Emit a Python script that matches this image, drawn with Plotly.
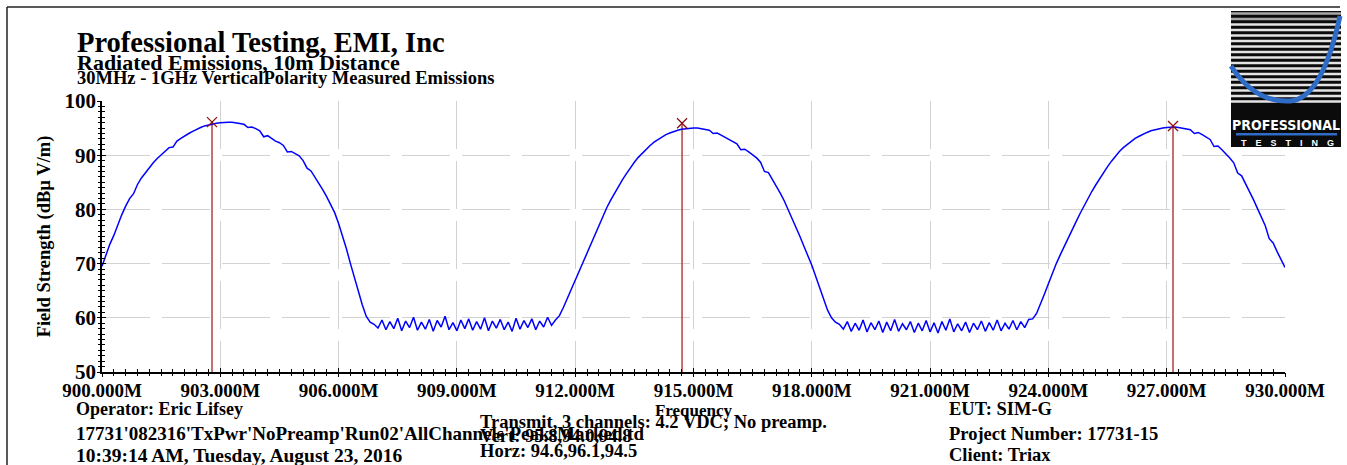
import plotly.graph_objects as go

# ---------------------------------------------------------------- data
# Sweep: 900 MHz to 930 MHz, 0.1 MHz resolution, vertical polarity (dBuV/m)
freq_start_mhz = 900.0
freq_step_mhz = 0.1
level_dbuvm = [
    # 900.0 - 906.9
    69.5, 71.6, 73.6, 75.2, 77.3, 79.0, 80.6, 82.0, 82.9, 84.6,
    85.8, 86.8, 87.8, 88.6, 89.4, 90.1, 90.8, 91.4, 91.5, 92.6,
    93.1, 93.6, 94.0, 94.4, 94.8, 95.1, 95.4, 95.6, 95.8, 95.9,
    96.0, 96.1, 96.1, 96.1, 96.0, 95.9, 95.7, 95.1, 95.2, 94.9,
    94.5, 93.4, 93.6, 93.1, 92.6, 92.3, 91.8, 90.6, 90.7, 90.3,
    89.9, 89.0, 87.6, 87.1, 86.0, 84.9, 83.6, 82.3, 80.9, 79.4,
    77.4, 75.2, 72.7, 70.0, 67.4, 64.9, 62.4, 60.3, 59.2, 58.8,
    # 907.0 - 911.4
    58.1, 59.6, 57.8, 59.3, 58.0, 59.9, 57.6, 59.4, 58.2, 60.1,
    57.7, 59.2, 57.9, 59.7, 57.5, 59.5, 58.3, 60.3, 57.8, 59.1,
    57.6, 59.6, 58.0, 59.8, 57.7, 59.3, 57.9, 60.0, 57.6, 59.4,
    58.1, 59.7, 57.8, 59.2, 57.5, 59.9, 57.9, 59.5, 58.2, 59.8,
    57.8, 59.4, 58.3, 60.1, 58.6,
    # 911.5 - 918.7
    59.6, 60.4, 61.9, 63.6, 65.3, 67.0, 68.6, 70.2, 71.9, 73.6,
    75.3, 77.0, 78.7, 80.3, 81.7, 83.0, 84.3, 85.5, 86.6, 87.7,
    88.7, 89.6, 90.4, 91.1, 91.8, 92.4, 92.9, 93.4, 93.8, 94.1,
    94.4, 94.6, 94.8, 94.9, 95.0, 95.0, 95.0, 94.9, 94.8, 94.6,
    94.0, 94.1, 93.7, 93.3, 92.9, 92.6, 92.1, 91.0, 91.1, 90.6,
    90.1, 89.5, 88.7, 87.0, 86.8, 85.6, 84.4, 83.0, 81.6, 80.0,
    78.4, 76.8, 75.0, 73.2, 71.5, 69.7, 67.6, 65.5, 63.4, 61.4,
    60.0, 59.2, 58.8,
    # 918.8 - 923.5
    57.9, 59.3, 57.5, 59.0, 57.7, 59.6, 57.4, 59.1, 57.8, 59.4,
    57.3, 59.2, 57.6, 59.7, 57.5, 58.9, 57.8, 59.3, 57.3, 59.0,
    57.6, 59.5, 57.4, 59.1, 57.2, 59.3, 57.7, 59.8, 57.4, 58.9,
    57.6, 59.2, 57.3, 59.0, 57.8, 59.4, 57.5, 59.1, 57.7, 59.6,
    57.6, 59.0, 57.9, 59.5, 57.8, 59.3, 58.2, 59.7,
    # 923.6 - 930.0
    59.8, 60.8, 62.5, 64.4, 66.3, 68.2, 70.0, 71.6, 73.2, 74.7,
    76.2, 77.7, 79.2, 80.6, 82.0, 83.3, 84.5, 85.7, 86.8, 87.9,
    88.9, 89.9, 90.7, 91.4, 92.0, 92.6, 93.1, 93.5, 93.9, 94.2,
    94.5, 94.7, 94.9, 95.0, 95.1, 95.2, 95.2, 95.1, 95.0, 94.9,
    94.7, 94.0, 94.2, 93.8, 93.4, 92.9, 91.6, 91.7, 91.0, 90.3,
    89.5, 88.6, 86.7, 86.2, 84.8, 83.3, 81.8, 80.2, 78.6, 77.0,
    74.6, 73.8, 72.2, 70.7, 69.3,
]
freq_mhz = [round(freq_start_mhz + i * freq_step_mhz, 1) for i in range(len(level_dbuvm))]

# Marked channel peaks
peak_freq_mhz = [902.79, 914.71, 927.16]
peak_level_dbuvm = [96.1, 95.9, 95.4]

# Axis settings
x_range = [900.0, 930.0]
x_major_step = 3.0
x_minor_step = 0.3
y_range = [50, 100]
y_major_step = 10
y_minor_step = 1

# Header / footer text
title_lines = [
    "Professional Testing, EMI, Inc",
    "Radiated Emissions, 10m Distance",
    "30MHz - 1GHz VerticalPolarity Measured Emissions",
]
footer_left = [
    "Operator: Eric Lifsey",
    "17731'082316'TxPwr'NoPreamp'Run02'AllChannels'PeaksMarked.td",
    "10:39:14 AM, Tuesday, August 23, 2016",
]
footer_mid = [
    "Transmit, 3 channels: 4.2 VDC; No preamp.",
    "Vert: 95.8,94.0,94.8",
    "Horz: 94.6,96.1,94.5",
]
footer_right = [
    "EUT: SIM-G",
    "Project Number: 17731-15",
    "Client: Triax",
]

# ---------------------------------------------------------------- geometry
W, H = 1347, 465
PL, PR, PT, PB = 102, 1285, 101, 372


def px_x(px):
    return (px - PL) / (PR - PL)


def px_y(py):
    return (PB - py) / (PB - PT)


SERIF = "Liberation Serif, Times New Roman, serif"

fig = go.Figure()

# peak stems from the floor of the plot up to each marked peak
stem_x, stem_y = [], []
for f, lv in zip(peak_freq_mhz, peak_level_dbuvm):
    stem_x += [f, f, None]
    stem_y += [y_range[0], lv, None]
fig.add_trace(go.Scatter(
    x=stem_x, y=stem_y, mode="lines",
    line=dict(color="rgba(170,45,45,0.85)", width=1.6),
    hoverinfo="skip", showlegend=False,
))

# measured sweep
fig.add_trace(go.Scatter(
    x=freq_mhz, y=level_dbuvm, mode="lines",
    line=dict(color="#0000ff", width=1.5),
    name="Vertical", showlegend=False,
))

# peak markers
fig.add_trace(go.Scatter(
    x=peak_freq_mhz, y=peak_level_dbuvm, mode="markers",
    marker=dict(symbol="x-thin", size=10,
                line=dict(color="#8b1010", width=1.3)),
    showlegend=False,
))

# helper trace so the outside-tick overlay axes are drawn
fig.add_trace(go.Scatter(x=[None], y=[None], xaxis="x2", yaxis="y2",
                         showlegend=False, hoverinfo="skip"))

grid = dict(showgrid=True, gridcolor="#d2d2d2", gridwidth=1, griddash="48px,12px")


def tick_set(side_ticks, dtick, minor_dtick):
    return dict(
        dtick=dtick, ticks=side_ticks, ticklen=4, tickwidth=1, tickcolor="black",
        minor=dict(dtick=minor_dtick, ticks=side_ticks, ticklen=3,
                   tickwidth=1, tickcolor="black", showgrid=False),
    )


fig.update_layout(
    width=W, height=H,
    margin=dict(l=PL, r=W - PR, t=PT, b=H - PB, pad=0),
    paper_bgcolor="white", plot_bgcolor="white",
    showlegend=False,
    # main axes carry labels, grid and the inner half of each tick
    xaxis=dict(
        range=x_range, tick0=x_range[0],
        **tick_set("inside", x_major_step, x_minor_step),
        tickformat=".3f", ticksuffix="M",
        showline=True, linecolor="black", linewidth=1.5,
        zeroline=False,
        tickfont=dict(family=SERIF, size=19, color="black", weight="bold"),
        title=dict(text="Frequency", standoff=3,
                   font=dict(family=SERIF, size=17, color="black", weight="bold")),
        **grid,
    ),
    yaxis=dict(
        range=y_range, tick0=y_range[0],
        **tick_set("inside", y_major_step, y_minor_step),
        showline=True, linecolor="black", linewidth=1.5,
        zeroline=False,
        tickfont=dict(family=SERIF, size=21, color="black", weight="bold"),
        title=dict(text="Field Strength (dB\u00b5 V/m)", standoff=9,
                   font=dict(family=SERIF, size=18.5, color="black", weight="bold")),
        **grid,
    ),
    # overlay axes add the outer half of each tick
    xaxis2=dict(
        overlaying="x", anchor="y2", side="bottom", range=x_range,
        tick0=x_range[0], **tick_set("outside", x_major_step, x_minor_step),
        showticklabels=False, showgrid=False, showline=False, zeroline=False,
    ),
    yaxis2=dict(
        overlaying="y", anchor="x2", side="left", range=y_range,
        tick0=y_range[0], **tick_set("outside", y_major_step, y_minor_step),
        showticklabels=False, showgrid=False, showline=False, zeroline=False,
    ),
)

# ---------------------------------------------------------------- text blocks
annotations = []


def add_text(text, px, py, size, anchor="left", color="black", family=SERIF):
    annotations.append(dict(
        text=text, xref="paper", yref="paper", x=px_x(px), y=px_y(py),
        xanchor=anchor, yanchor="middle", showarrow=False,
        font=dict(family=family, size=size, color=color, weight="bold"),
    ))


add_text(title_lines[0], 75, 42, 28.5)
add_text(title_lines[1], 75, 63, 22)
add_text(title_lines[2], 75, 78, 18.5)

for text, py, size in zip(footer_left, [409, 433, 455], [18, 19, 19.5]):
    add_text(text, 74, py, size)
for text, py in zip(footer_mid, [422, 436, 451]):
    add_text(text, 478, py, 18.5)
for text, py in zip(footer_right, [409, 434, 455]):
    add_text(text, 947, py, 18.5)

# logo lettering
add_text("PROFESSIONAL", 1286, 125, 14, anchor="center", color="white",
         family="Liberation Sans Narrow, DejaVu Sans Condensed, Roboto, sans-serif")
add_text("T\u2003E\u2003S\u2003T\u2003I\u2003N\u2003G",
         1287, 143, 9, anchor="center",
         color="white", family="Liberation Sans, Arial, sans-serif")

fig.update_layout(annotations=annotations)

# ---------------------------------------------------------------- frame + logo
shapes = []
# outer page frame (top and left edge)
shapes.append(dict(type="line", xref="paper", yref="paper", layer="above",
                   x0=px_x(7), x1=px_x(1340), y0=px_y(7), y1=px_y(7),
                   line=dict(color="#222", width=1.5)))
shapes.append(dict(type="line", xref="paper", yref="paper", layer="above",
                   x0=px_x(7), x1=px_x(7), y0=px_y(7), y1=px_y(466),
                   line=dict(color="#222", width=1.5)))

# logo: black tile with light stripes, blue arc and wordmark underline
shapes.append(dict(type="rect", xref="paper", yref="paper", layer="above",
                   x0=px_x(1231), x1=px_x(1341), y0=px_y(11), y1=px_y(147),
                   fillcolor="#0b0b0b", line=dict(width=0)))
stripe_rows = [13.5, 19, 24.5, 30, 35.5, 41, 46.5, 52, 57.5, 63, 68.5, 74, 79.5,
               85, 90.5, 96, 101.5]
for i, sy in enumerate(stripe_rows):
    shade = "#a8a8a8" if i < 2 else "#e4e4e4"
    shapes.append(dict(type="line", xref="paper", yref="paper", layer="above",
                       x0=px_x(1231), x1=px_x(1341), y0=px_y(sy), y1=px_y(sy),
                       line=dict(color=shade, width=2.6)))


def pt(px, py):
    return f"{px_x(px):.5f},{px_y(py):.5f}"


arc = (f"M {pt(1231, 66)} Q {pt(1255, 103)} {pt(1290, 101)} "
       f"Q {pt(1322, 99)} {pt(1340, 16)}")
shapes.append(dict(type="path", xref="paper", yref="paper", layer="above",
                   path=arc, line=dict(color="#2e6cc6", width=5)))
shapes.append(dict(type="rect", xref="paper", yref="paper", layer="above",
                   x0=px_x(1236), x1=px_x(1337), y0=px_y(133), y1=px_y(135.5),
                   fillcolor="#2e6cc6", line=dict(width=0)))

fig.update_layout(shapes=shapes)

fig.write_html("out.html")
